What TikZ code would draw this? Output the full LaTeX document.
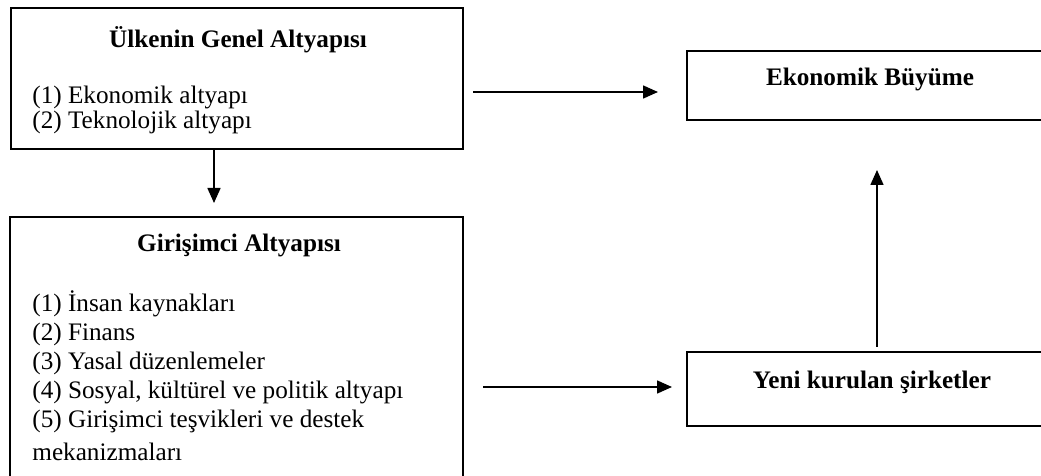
\documentclass[tikz,border=0pt]{standalone}
\usepackage{fontspec}
\setmainfont{Liberation Serif}
\usetikzlibrary{arrows.meta}

\tikzset{
  kutu/.style={draw, line width=0.9pt, inner sep=0pt},
  baslik/.style={font=\fontsize{12.6}{15}\selectfont\bfseries, inner sep=0pt},
  liste/.style={align=left, inner sep=0pt, anchor=west},
  ok/.style={line width=0.8pt, -{Triangle[length=7.5pt,width=6.5pt]}}
}

\begin{document}
\begin{tikzpicture}[x=0.5pt,y=-0.5pt]
\clip (0,0) rectangle (1041,476);

% boxes
\node[kutu, minimum width=226pt, minimum height=70.5pt] (ulke) at (237,78.5) {};
\node[kutu, minimum width=226.5pt, minimum height=131.5pt] (giris) at (236.5,348.5) {};
\node[kutu, minimum width=179pt, minimum height=34.5pt] (buyume) at (866,85.5) {};
\node[kutu, minimum width=179pt, minimum height=37pt] (yeni) at (866,389) {};

% texts
\node[baslik] (ulkebas) at (238,40) {Ülkenin Genel Altyapısı};
\node[liste, font=\fontsize{12.6}{12.5}\selectfont] (ulkelis) at (32,109.5)
  {(1) Ekonomik altyapı\\(2) Teknolojik altyapı};

\node[baslik] (girisbas) at (239,245) {Girişimci Altyapısı};
\node[liste, font=\fontsize{12.6}{14.5}\selectfont] (girislis) at (32,376)
  {(1) İnsan kaynakları\\(2) Finans\\(3) Yasal düzenlemeler\\
   (4) Sosyal, kültürel ve politik altyapı\\
   (5) Girişimci teşvikleri ve destek\\[2pt]mekanizmaları};

\node[baslik] (buyumebas) at (870,79) {Ekonomik Büyüme};
\node[baslik] (yenibas) at (872,382) {Yeni kurulan şirketler};

% arrows
\coordinate (u1) at (473,92);
\coordinate (u2) at (658,92);
\coordinate (d2) at (214,203);
\coordinate (g1) at (483,387);
\coordinate (g2) at (672,387);
\coordinate (y1) at (877,347);
\coordinate (y2) at (877,170);

\draw[ok] (u1) -- (u2);
\draw[ok] (ulke.south -| d2) -- (d2);
\draw[ok] (g1) -- (g2);
\draw[ok] (y1) -- (y2);

\end{tikzpicture}
\end{document}
